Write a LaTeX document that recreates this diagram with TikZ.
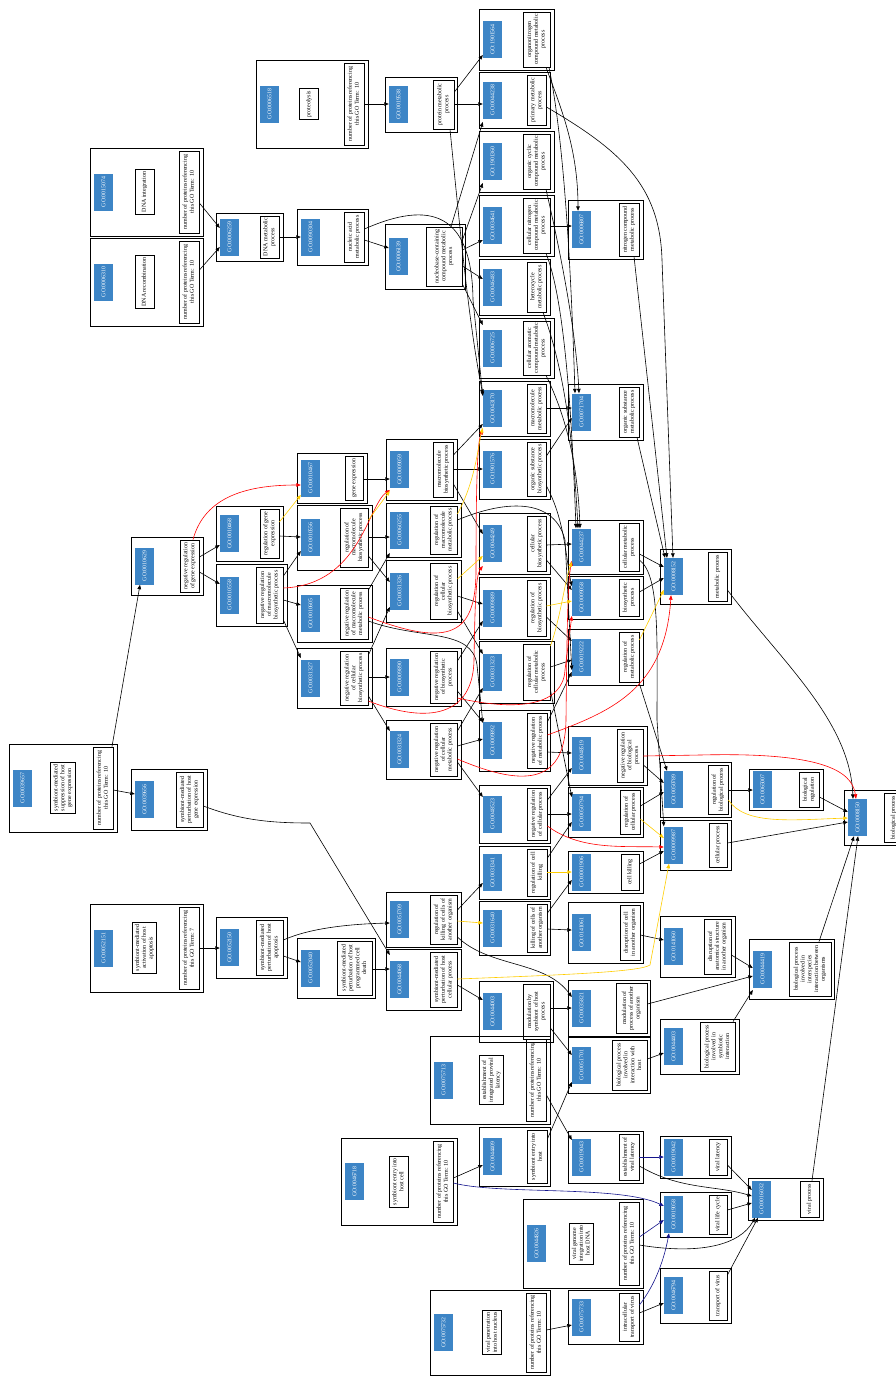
\documentclass[tikz,border=0pt]{standalone}
\usepackage{fontspec}
\setmainfont{Liberation Serif}
\usepackage{graphicx}
\usetikzlibrary{arrows.meta,calc}
\definecolor{idblue}{RGB}{61,133,198}
\definecolor{gold}{RGB}{255,205,0}
\definecolor{navyb}{RGB}{20,20,140}
\tikzset{
 outerbox/.style={draw=black, line width=0.7pt, inner sep=0pt},
 idbox/.style={fill=idblue, text=white, minimum width=19, minimum height=37, inner sep=0pt, font=\fontsize{5.8}{6.6}\selectfont},
 namebox/.style={draw=black, line width=0.8pt, inner sep=1pt, font=\fontsize{6}{6.8}\selectfont},
 e/.style={draw, line width=0.6pt, -{Triangle[length=4.5pt,width=3.6pt]}},
 rg/.style={e, gold},
 nr/.style={e, red},
 po/.style={e, navyb},
}
\newcommand{\GOn}[8]{%
  \node[outerbox, minimum width={#4-#2}, minimum height={#5-#3}] (o#1) at ({(#2+#4)/2},{(#3+#5)/2}) {};
  \node[idbox] (b#1) at ({#2+13.5},{(#3+#5)/2}) {\rotatebox{90}{GO:#1}};
  \node[namebox, minimum width={#7-#6}, minimum height={#5-#3-6}] (n#1) at ({(#6+#7)/2},{(#3+#5)/2}) {\rotatebox{90}{\begin{tabular}{@{}c@{}}#8\end{tabular}}};
}
\newcommand{\GOc}[8]{%
  \node[outerbox, minimum width={#4-#2}, minimum height={#5-#3}] (o#1) at ({(#2+#4)/2},{(#3+#5)/2}) {};
  \node[idbox] (b#1) at ({#2+13.5},{(#3+#5)/2}) {\rotatebox{90}{GO:#1}};
  \node[namebox, minimum width=19, inner sep=2pt] (n#1) at (#6,{(#3+#5)/2}) {\rotatebox{90}{\begin{tabular}{@{}c@{}}#7\end{tabular}}};
  \node[namebox, minimum width=20, minimum height={#5-#3-6}] (c#1) at ({#4-14},{(#3+#5)/2}) {\rotatebox{90}{\begin{tabular}{@{}c@{}}number of proteins referencing\\this GO Term: #8\end{tabular}}};
}
\begin{document}
\begin{tikzpicture}[x=1pt,y=-1pt]
\useasboundingbox (0,0) rectangle (896,1376);
\clip (0,0) rectangle (896,1376);
% ---------- nodes with counts
\GOc{0006518}{256}{60}{368}{148}{309}{proteolysis}{10}
\GOc{0015074}{90}{148}{203}{236}{144.5}{DNA integration}{10}
\GOc{0006310}{90}{238}{203}{326}{144.5}{DNA recombination}{10}
\GOc{0039657}{9}{744}{117}{832}{63}{symbiont-mediated\\suppression of host\\gene expression}{10}
\GOc{0052151}{90}{904}{203}{992}{144.5}{symbiont-mediated\\activation of host\\apoptosis}{7}
\GOc{0075713}{430}{1036}{550}{1124}{491.5}{establishment of\\integrated proviral\\latency}{10}
\GOc{0046718}{341}{1138}{457}{1225}{398.5}{symbiont entry into\\host cell}{10}
\GOc{0044826}{523}{1199}{643}{1288}{581.5}{viral genome\\integration into\\host DNA}{10}
\GOc{0075732}{430}{1290}{550}{1375}{492}{viral penetration\\into host nucleus}{10}
% ---------- other nodes
\GOn{0006259}{216}{213}{283}{261}{260}{279}{DNA metabolic\\process}
\GOn{0090304}{297}{209}{368}{265}{344}{364}{nucleic acid\\metabolic process}
\GOn{0019538}{385}{77}{457}{132}{433}{454}{protein metabolic\\process}
\GOn{0006139}{385}{224}{465}{289}{426}{462}{nucleobase-containing\\compound metabolic\\process}
\GOn{1901564}{479}{9}{554}{70}{523}{550}{organonitrogen\\compound metabolic\\process}
\GOn{0044238}{479}{72}{550}{128}{527}{546}{primary metabolic\\process}
\GOn{1901360}{479}{131}{554}{192}{523}{550}{organic cyclic\\compound metabolic\\process}
\GOn{0034641}{479}{195}{554}{256}{523}{550}{cellular nitrogen\\compound metabolic\\process}
\GOn{0046483}{479}{259}{550}{315}{527}{546}{heterocycle\\metabolic process}
\GOn{0006725}{479}{318}{554}{378}{523}{550}{cellular aromatic\\compound metabolic\\process}
\GOn{0043170}{479}{381}{550}{436}{527}{546}{macromolecule\\metabolic process}
\GOn{1901576}{479}{439}{550}{499}{527}{546}{organic substance\\biosynthetic process}
\GOn{0044249}{479}{513}{550}{574}{527}{546}{cellular\\biosynthetic process}
\GOn{0009889}{479}{577}{550}{639}{527}{546}{regulation of\\biosynthetic process}
\GOn{0031323}{479}{641}{554}{703}{523}{550}{regulation of\\cellular metabolic\\process}
\GOn{0009892}{479}{710}{550}{771}{527}{547}{negative regulation\\of metabolic process}
\GOn{0048523}{479}{785}{550}{843}{527}{547}{negative regulation\\of cellular process}
\GOn{0031341}{479}{846}{550}{899}{527}{547}{regulation of cell\\killing}
\GOn{0031640}{479}{901}{550}{955}{527}{547}{killing of cells of\\another organism}
\GOn{0044003}{479}{981}{553}{1042}{523}{550}{modulation by\\symbiont of host\\process}
\GOn{0044409}{479}{1127}{550}{1186}{527}{547}{symbiont entry into\\host}
\GOn{0006807}{568}{200}{643}{259}{619}{639}{nitrogen compound\\metabolic process}
\GOn{0071704}{568}{384}{643}{440}{619}{639}{organic substance\\metabolic process}
\GOn{0044237}{568}{520}{643}{574}{619}{639}{cellular metabolic\\process}
\GOn{0009058}{568}{576}{643}{619}{619}{639}{biosynthetic\\process}
\GOn{0019222}{568}{629}{643}{685}{619}{639}{regulation of\\metabolic process}
\GOn{0048519}{568}{726}{647}{785}{617}{643}{negative regulation\\of biological\\process}
\GOn{0050794}{568}{787}{643}{837}{620}{640}{regulation of\\cellular process}
\GOn{0001906}{568}{851}{643}{893}{621}{639}{cell killing}
\GOn{0141061}{568}{902}{643}{963}{620}{640}{disruption of cell\\in another organism}
\GOn{0035821}{568}{980}{650}{1036}{616}{647}{modulation of\\process of another\\organism}
\GOn{0051701}{568}{1037}{650}{1093}{612}{647}{biological process\\involved in\\interaction with\\host}
\GOn{0019043}{568}{1131}{643}{1183}{619}{639}{establishment of\\viral latency}
\GOn{0075733}{568}{1290}{643}{1344}{619}{639}{intracellular\\transport of virus}
\GOn{0008152}{660}{549}{731}{604}{708}{727}{metabolic process}
\GOn{0050789}{660}{762}{731}{817}{708}{728}{regulation of\\biological process}
\GOn{0009987}{660}{820}{731}{870}{709}{727}{cellular process}
\GOn{0141060}{660}{916}{735}{977}{704}{731}{disruption of\\anatomical structure\\in another organism}
\GOn{0044403}{660}{1019}{739}{1074}{700}{735}{biological process\\involved in\\symbiotic\\interaction}
\GOn{0019042}{660}{1136}{731}{1178}{709}{727}{viral latency}
\GOn{0019058}{660}{1192}{731}{1237}{709}{727}{viral life cycle}
\GOn{0046794}{660}{1268}{731}{1323}{709}{727}{transport of virus}
\GOn{0065007}{749}{769}{823}{810}{799}{819}{biological\\regulation}
\GOn{0044419}{749}{939}{834}{999}{789}{831}{biological process\\involved in\\interspecies\\interaction between\\organisms}
\GOn{0016032}{748}{1178}{823}{1220}{800}{819}{viral process}
\GOn{0008150}{844}{790}{910}{845}{884}{903}{biological process}
\GOn{0010629}{131}{537}{203}{595}{180}{199}{negative regulation\\of gene expression}
\GOn{0039656}{131}{769}{207}{830}{176}{203}{symbiont-mediated\\perturbation of host\\gene expression}
\GOn{0010468}{216}{506}{283}{561}{260}{279}{regulation of gene\\expression}
\GOn{0010558}{216}{564}{287}{626}{256}{283}{negative regulation\\of macromolecule\\biosynthetic process}
\GOn{0052150}{216}{917}{287}{978}{256}{283}{symbiont-mediated\\perturbation of host\\apoptosis}
\GOn{0010467}{297}{453}{367}{503}{345}{363}{gene expression}
\GOn{0010556}{297}{505}{372}{570}{340}{368}{regulation of\\macromolecule\\biosynthetic process}
\GOn{0010605}{297}{585}{372}{642}{340}{368}{negative regulation\\of macromolecule\\metabolic process}
\GOn{0031327}{297}{648}{372}{708}{340}{368}{negative regulation\\of cellular\\biosynthetic process}
\GOn{0052040}{297}{938}{375}{998}{337}{372}{symbiont-mediated\\perturbation of host\\programmed cell\\death}
\GOn{0009059}{386}{439}{457}{500}{433}{453}{macromolecule\\biosynthetic process}
\GOn{0060255}{386}{503}{461}{557}{430}{457}{regulation of\\macromolecule\\metabolic process}
\GOn{0031326}{386}{560}{461}{622}{430}{457}{regulation of\\cellular\\biosynthetic process}
\GOn{0009890}{386}{648}{461}{706}{430}{457}{negative regulation\\of biosynthetic\\process}
\GOn{0031324}{386}{720}{461}{779}{430}{457}{negative regulation\\of cellular\\metabolic process}
\GOn{0051709}{386}{892}{461}{947}{430}{457}{regulation of\\killing of cells of\\another organism}
\GOn{0044068}{386}{949}{461}{1010}{430}{457}{symbiont-mediated\\perturbation of host\\cellular process}
% ---------- black edges (is a)
\draw[e] (c0015074.east |- 0,203) -- (b0006259.west |- 0,228);
\draw[e] (c0006310.east |- 0,270) -- (b0006259.west |- 0,247);
\draw[e] (n0006259.east |- 0,237) -- (b0090304.west |- 0,237);
\draw[e] (c0006518.east |- 0,104) -- (b0019538.west |- 0,104);
\draw[e] (n0090304.east |- 0,240) -- (b0006139.west |- 0,248);
\draw[e] (n0090304.east |- 0,229) .. controls (430,200) and (472,212) .. (473,300) -- (b0043170.west |- 0,396);
\draw[e] (n0019538.east |- 0,92) -- (b1901564.west |- 0,55);
\draw[e] (n0019538.east |- 0,104) -- (b0044238.west |- 0,104);
\draw[e] (n0019538.south -| 450,0) .. controls (462,250) and (470,330) .. (b0043170.west |- 0,394);
\draw[e] (n0006139.north -| 451,0) -- (b0044238.west |- 0,122);
\draw[e] (n0006139.east |- 0,240) -- (b1901360.west |- 0,183);
\draw[e] (n0006139.east |- 0,250) -- (b0034641.west |- 0,240);
\draw[e] (n0006139.east |- 0,266) -- (b0046483.west |- 0,279);
\draw[e] (n0006139.east |- 0,284) -- (b0006725.west |- 0,325);
\draw[e] (n1901564.south -| 546,0) .. controls (562,110) and (578,150) .. (b0006807.north -| 578,0);
\draw[e] (n1901564.south -| 549,0) .. controls (566,150) and (572,300) .. (b0071704.north -| 575,0);
\draw[e] (n1901360.south -| 546,0) .. controls (560,250) and (576,330) .. (b0071704.north -| 579,0);
\draw[e] (n0044238.east |- 0,107) .. controls (620,150) and (660,185) .. (662,260) -- (b0008152.north -| 673,0);
\draw[e] (n0006807.south -| 634,0) -- (b0008152.north -| 667,0);
\draw[e] (n0071704.south -| 637,0) -- (b0008152.north -| 665,0);
\draw[e] (n0034641.east |- 0,226) -- (b0006807.west |- 0,226);
\draw[e] (n0034641.south -| 546,0) .. controls (565,300) and (572,420) .. (b0044237.north -| 576,0);
\draw[e] (n0046483.south -| 543,0) .. controls (565,370) and (574,450) .. (b0044237.north -| 578,0);
\draw[e] (n0006725.south -| 546,0) .. controls (568,420) and (578,470) .. (b0044237.north -| 580,0);
\draw[e] (n0043170.east |- 0,408) -- (b0071704.west |- 0,408);
\draw[e] (n1901576.east |- 0,456) -- (b0071704.west |- 0,418);
\draw[e] (n1901576.east |- 0,486) .. controls (565,520) and (566,560) .. (b0009058.west |- 0,586);
\draw[e] (n0044249.east |- 0,545) -- (b0044237.west |- 0,544);
\draw[e] (n0044249.east |- 0,560) -- (b0009058.west |- 0,590);
\draw[e] (n0044237.east |- 0,554) -- (b0008152.west |- 0,567);
\draw[e] (n0009058.east |- 0,592) -- (b0008152.west |- 0,578);
\draw[e] (n0044237.east |- 0,560) .. controls (660,575) and (657,640) .. (657,720) -- (b0009987.north west);
\draw[e] (n0019222.south -| 639,0) -- (b0050789.north -| 667,0);
\draw[e] (n0008152.east |- 0,590) .. controls (780,660) and (850,720) .. (b0008150.north -| 853,0);
\draw[e] (n0048519.east |- 0,765) -- (b0050789.west |- 0,783);
\draw[e] (n0050794.east |- 0,806) -- (b0050789.west |- 0,792);
\draw[e] (n0001906.east |- 0,864) -- (b0009987.west |- 0,851);
\draw[e] (n0050789.east |- 0,790) -- (b0065007.west |- 0,790);
\draw[e] (n0065007.east |- 0,797) -- (b0008150.west |- 0,812);
\draw[e] (n0009987.east |- 0,843) -- (b0008150.west |- 0,822);
\draw[e] (n0044419.north -| 819,0) -- (b0008150.south -| 854,0);
\draw[e] (n0016032.north -| 812,0) -- (b0008150.south -| 858,0);
\draw[e] (n0141061.east |- 0,935) -- (b0141060.west |- 0,940);
\draw[e] (n0141060.east |- 0,955) -- (b0044419.west |- 0,968);
\draw[e] (n0035821.east |- 0,1004) -- (b0044419.west |- 0,976);
\draw[e] (n0044403.north -| 733,0) -- (b0044419.west |- 0,990);
\draw[e] (n0051701.east |- 0,1059) -- (b0044403.west |- 0,1053);
\draw[e] (n0044068.east |- 0,985) -- (b0044003.west |- 0,1000);
\draw[e] (n0052040.east |- 0,969) -- (b0044068.west |- 0,969);
\draw[e] (n0039656.east |- 0,806) .. controls (240,820) and (270,823) .. (310,823) -- (b0044068.west |- 0,955);
\draw[e] (c0039657.east |- 0,790) -- (b0039656.west |- 0,794);
\draw[e] (c0039657.north -| 112,0) -- (b0010629.south -| 140,0);
\draw[e] (c0052151.east |- 0,948) -- (b0052150.west |- 0,948);
\draw[e] (n0052150.east |- 0,940) .. controls (310,928) and (350,924) .. (b0051709.west |- 0,923);
\draw[e] (n0052150.east |- 0,956) -- (b0052040.west |- 0,962);
\draw[e] (n0051709.east |- 0,910) -- (b0031341.west |- 0,883);
\draw[e] (n0051709.east |- 0,937) .. controls (490,968) and (545,960) .. (b0035821.west |- 0,997);
\draw[e] (n0031341.east |- 0,858) -- (b0050794.west |- 0,822);
\draw[e] (n0031640.east |- 0,913) -- (b0001906.west |- 0,880);
\draw[e] (n0031640.east |- 0,929) -- (b0141061.west |- 0,930);
\draw[e] (n0044003.east |- 0,1008) -- (b0035821.west |- 0,1008);
\draw[e] (n0044003.east |- 0,1028) -- (b0051701.west |- 0,1055);
\draw[e] (n0044409.east |- 0,1139) -- (b0051701.west |- 0,1082);
\draw[e] (c0075713.east |- 0,1095) -- (b0019043.west |- 0,1140);
\draw[e] (c0046718.east |- 0,1178) -- (b0044409.west |- 0,1165);
\draw[e] (n0019043.east |- 0,1166) .. controls (680,1190) and (715,1185) .. (b0016032.west |- 0,1196);
\draw[e] (n0019042.east |- 0,1165) -- (b0016032.west |- 0,1190);
\draw[e] (n0019058.east |- 0,1210) -- (b0016032.west |- 0,1203);
\draw[e] (c0044826.east |- 0,1245) .. controls (700,1255) and (740,1245) .. (b0016032.south -| 755,0);
\draw[e] (c0075732.east |- 0,1330) -- (b0075733.west |- 0,1325);
\draw[e] (n0075733.east |- 0,1313) -- (b0046794.west |- 0,1303);
\draw[e] (n0046794.east |- 0,1275) -- (b0016032.south -| 758,0);
\draw[e] (n0010629.east |- 0,557) -- (b0010468.west |- 0,545);
\draw[e] (n0010629.east |- 0,572) -- (b0010558.west |- 0,584);
\draw[e] (n0010468.east |- 0,536) -- (b0010556.west |- 0,537);
\draw[e] (n0010558.east |- 0,576) -- (b0010556.west |- 0,551);
\draw[e] (n0010558.east |- 0,600) -- (b0010605.west |- 0,605);
\draw[e] (n0010558.east |- 0,620) -- (b0031327.west |- 0,658);
\draw[e] (n0010467.east |- 0,479) -- (b0009059.west |- 0,479);
\draw[e] (n0010556.east |- 0,537) -- (b0060255.west |- 0,537);
\draw[e] (n0010556.east |- 0,556) -- (b0031326.west |- 0,582);
\draw[e] (n0009059.east |- 0,455) -- (b0043170.west |- 0,424);
\draw[e] (n0009059.east |- 0,469) -- (b1901576.west |- 0,469);
\draw[e] (n0009059.east |- 0,484) -- (b0044249.west |- 0,534);
\draw[e] (n0060255.east |- 0,520) .. controls (510,498) and (555,500) .. (565,540) -- (b0019222.west |- 0,670);
\draw[e] (n0010605.east |- 0,590) -- (b0060255.west |- 0,553);
\draw[e] (n0010605.east |- 0,621) .. controls (420,640) and (472,628) .. (477,665) -- (b0009892.west |- 0,723);
\draw[e] (n0031327.east |- 0,655) -- (b0031326.west |- 0,607);
\draw[e] (n0031327.east |- 0,677) -- (b0009890.west |- 0,677);
\draw[e] (n0031327.east |- 0,696) -- (b0031324.west |- 0,731);
\draw[e] (n0031326.east |- 0,596) -- (b0009889.west |- 0,604);
\draw[e] (n0031326.east |- 0,611) -- (b0031323.west |- 0,654);
\draw[e] (n0009890.east |- 0,661) -- (b0009889.west |- 0,621);
\draw[e] (n0009890.east |- 0,691) -- (b0009892.west |- 0,722);
\draw[e] (n0031324.east |- 0,731) -- (b0031323.west |- 0,688);
\draw[e] (n0031324.east |- 0,746) -- (b0009892.west |- 0,739);
\draw[e] (n0031324.east |- 0,762) -- (b0048523.west |- 0,797);
\draw[e] (n0009892.east |- 0,752) -- (b0048519.west |- 0,753);
\draw[e] (n0009892.east |- 0,722) -- (b0019222.west |- 0,672);
\draw[e] (n0048523.east |- 0,800) -- (b0048519.west |- 0,768);
\draw[e] (n0048523.east |- 0,814) -- (b0050794.west |- 0,814);
\draw[e] (n0031323.east |- 0,667) -- (b0019222.west |- 0,660);
\draw[e] (n0031323.east |- 0,690) -- (b0050794.west |- 0,797);
\draw[e] (n0009889.east |- 0,617) -- (b0019222.west |- 0,641);
% ---------- red edges (negatively regulates)
\draw[nr] (n0010629.north -| 193,0) .. controls (205,495) and (250,485) .. (b0010467.west |- 0,485);
\draw[nr] (n0010558.east |- 0,588) .. controls (360,585) and (368,505) .. (b0009059.west |- 0,490);
\draw[nr] (n0010605.east |- 0,617) .. controls (450,648) and (476,635) .. (476,570) .. controls (476,470) and (478,440) .. (b0043170.west |- 0,430);
\draw[nr] (n0031327.east |- 0,701) .. controls (430,725) and (473,715) .. (474,660) .. controls (475,600) and (476,575) .. (b0044249.west |- 0,566);
\draw[nr] (n0009890.east |- 0,698) .. controls (520,712) and (563,705) .. (565,670) -- (b0009058.west |- 0,616);
\draw[nr] (n0031324.east |- 0,759) .. controls (530,790) and (565,780) .. (566,720) .. controls (567,620) and (568,580) .. (b0044237.west |- 0,561);
\draw[nr] (n0009892.east |- 0,735) .. controls (610,712) and (665,690) .. (b0008152.south -| 671,0);
\draw[nr] (n0048519.east |- 0,756) -- (700,755) .. controls (820,752) and (852,770) .. (b0008150.north -| 856,0);
\draw[nr] (n0048523.east |- 0,826) .. controls (580,850) and (620,846) .. (b0009987.west |- 0,847);
% ---------- yellow edges (regulates)
\draw[rg] (n0010468.east |- 0,522) -- (b0010467.west |- 0,495);
\draw[rg] (n0010556.east |- 0,520) -- (b0009059.west |- 0,491);
\draw[rg] (n0060255.east |- 0,514) .. controls (476,480) and (478,445) .. (b0043170.west |- 0,428);
\draw[rg] (n0031326.east |- 0,579) -- (b0044249.west |- 0,556);
\draw[rg] (n0009889.east |- 0,606) -- (b0009058.west |- 0,601);
\draw[rg] (n0031323.east |- 0,646) .. controls (560,620) and (565,580) .. (b0044237.west |- 0,562);
\draw[rg] (n0019222.east |- 0,640) -- (b0008152.west |- 0,590);
\draw[rg] (n0050794.east |- 0,819) -- (b0009987.west |- 0,838);
\draw[rg] (n0050789.east |- 0,800) .. controls (745,825) and (790,820) .. (b0008150.west |- 0,818);
\draw[rg] (n0031341.east |- 0,872) -- (b0001906.west |- 0,872);
\draw[rg] (n0051709.east |- 0,921) -- (b0031640.west |- 0,923);
\draw[rg] (n0044068.east |- 0,979) .. controls (560,975) and (640,972) .. (650,965) -- (b0009987.south -| 669,0);
% ---------- navy edges (part of)
\draw[po] (c0046718.east |- 0,1183) .. controls (500,1195) and (620,1185) .. (b0019058.west |- 0,1206);
\draw[po] (n0019043.east |- 0,1157) -- (b0019042.west |- 0,1157);
\draw[po] (c0044826.east |- 0,1237) -- (b0019058.west |- 0,1220);
\draw[po] (n0075733.east |- 0,1305) .. controls (655,1285) and (664,1260) .. (b0019058.south -| 669,0);
\end{tikzpicture}
\end{document}
